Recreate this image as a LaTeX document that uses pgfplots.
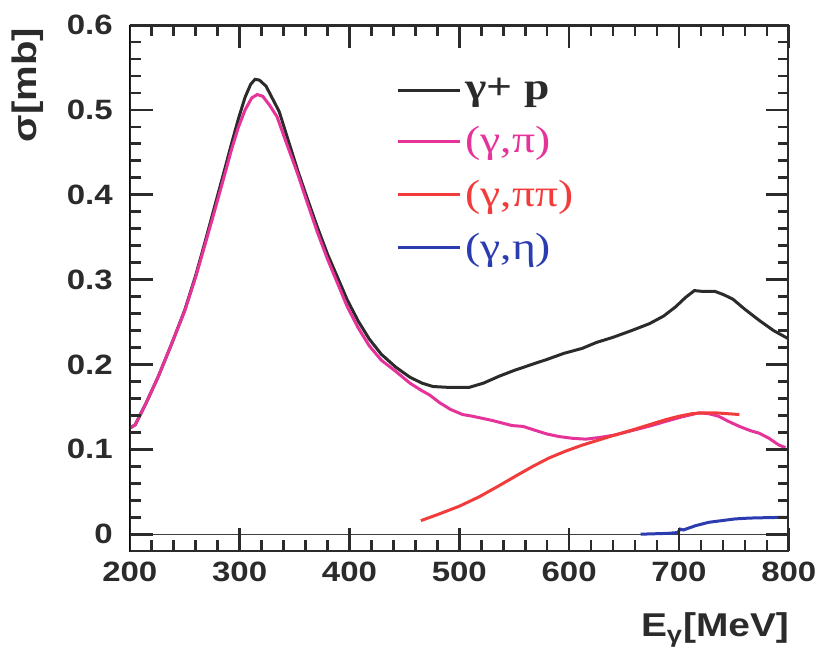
\documentclass[border=0pt]{standalone}
\usepackage{fontspec}
\setmainfont{Liberation Sans}[FakeStretch=1.18]
\newfontfamily\legfont{Liberation Serif}[FakeStretch=1.2]
\usepackage{pgfplots}
\pgfplotsset{compat=1.18}
\definecolor{cblk}{HTML}{2B2B2B}
\definecolor{cmag}{HTML}{E5339A}
\definecolor{cred}{HTML}{F23C3C}
\definecolor{cblu}{HTML}{2A3CB0}

\begin{document}
\begin{tikzpicture}
\begin{axis}[
  scale only axis,
  width=330pt, height=263.5pt,
  xmin=200, xmax=800, ymin=-0.02, ymax=0.6,
  xtick={200,300,...,800}, ytick={0,0.1,...,0.6},
  minor x tick num=4, minor y tick num=4,
  major tick length=11.5pt, minor tick length=5.5pt,
  tick style={line width=1.3pt, black!83},
  /pgf/number format/assume math mode=true,
  /pgf/number format/fixed,
  ticklabel style={font=\fontsize{14}{16}\selectfont\bfseries, text=cblk},
  yticklabel style={xshift=-5pt},
  xticklabel style={yshift=-2pt},
  ylabel={\bfseries σ[mb]},
  ylabel style={at={(axis description cs:-0.155,0.886)}, anchor=center,
    font=\fontsize{17}{19}\selectfont, text=cblk},
  xlabel={\bfseries E\textsubscript{γ}[MeV]},
  xlabel style={at={(axis description cs:0.765,-0.163)}, anchor=base west,
    font=\fontsize{16.5}{19}\selectfont, text=cblk},
  legend style={at={(axis description cs:0.395,0.915)}, anchor=north west,
    draw=none, fill=none, font=\legfont\fontsize{19}{21}\selectfont,
    row sep=8pt, column sep=0pt},
  legend cell align=left,
  legend image code/.code={\draw[#1] (0pt,0pt) -- (31pt,0pt);},
]
\addplot[forget plot, black!75, line width=0.6pt] coordinates {(200,0)(800,0)};

\addplot[cblk, line width=1.5pt] coordinates {
(200,0.125)(205,0.129)(215,0.155)(226,0.186)(238,0.224)(250,0.264)(260,0.305)
(268,0.342)(277,0.385)(286,0.428)(293,0.462)(299,0.490)(305,0.515)(310,0.530)
(314,0.536)(318,0.535)(324,0.528)(330,0.513)(336,0.498)(344,0.465)(353,0.428)
(362,0.394)(371,0.361)(380,0.330)(389,0.303)(398,0.276)(408,0.251)(418,0.230)
(429,0.212)(442,0.197)(455,0.185)(466,0.178)(476,0.174)(490,0.173)(509,0.173)
(522,0.178)(536,0.186)(550,0.193)(566,0.200)(580,0.206)(595,0.213)(612,0.219)
(625,0.226)(640,0.232)(657,0.240)(673,0.248)(686,0.257)(697,0.268)(706,0.279)
(714,0.287)(722,0.286)(733,0.286)(741,0.282)(749,0.277)(760,0.265)(773,0.252)
(786,0.240)(800,0.230)};
\addlegendentry{\textcolor{cblk}{\bfseries γ+ p}}

\addplot[cmag, line width=1.5pt] coordinates {
(200,0.125)(205,0.129)(215,0.155)(226,0.186)(238,0.224)(250,0.263)(260,0.303)
(268,0.339)(277,0.380)(286,0.422)(293,0.455)(299,0.480)(305,0.500)(311,0.514)
(316,0.518)(321,0.516)(327,0.506)(334,0.492)(342,0.463)(353,0.424)(362,0.389)
(371,0.355)(380,0.324)(389,0.296)(398,0.268)(408,0.243)(418,0.222)(429,0.205)
(442,0.192)(455,0.178)(466,0.169)(473,0.164)(482,0.155)(492,0.147)(503,0.141)
(512,0.139)(530,0.134)(548,0.128)(558,0.127)(570,0.122)(580,0.118)(591,0.115)
(603,0.113)(615,0.112)(628,0.114)(642,0.117)(660,0.123)(675,0.128)(688,0.133)
(702,0.138)(718,0.143)(727,0.142)(736,0.139)(745,0.133)(755,0.127)(765,0.122)
(773,0.119)(782,0.113)(791,0.105)(797,0.102)};
\addlegendentry{\textcolor{cmag}{(γ,π)}}

\addplot[cred, line width=1.5pt] coordinates {
(465,0.016)(480,0.023)(500,0.033)(518,0.044)(536,0.057)(552,0.069)(567,0.080)
(582,0.090)(597,0.098)(612,0.105)(627,0.111)(642,0.117)(658,0.123)(673,0.129)
(688,0.135)(700,0.139)(712,0.142)(722,0.143)(733,0.143)(744,0.142)(755,0.141)};
\addlegendentry{\textcolor{cred}{(γ,ππ)}}

\addplot[cblu, line width=1.5pt] coordinates {
(665,0.000)(690,0.001)(699,0.002)(701,0.006)(704,0.005)(715,0.010)(727,0.014)
(739,0.016)(751,0.018)(764,0.019)(780,0.0195)(800,0.020)};
\addlegendentry{\textcolor{cblu}{(γ,η)}}

% tick marks drawn by hand as well, inward on all four sides
\pgfplotsinvokeforeach{300,400,500,600,700}{
  \draw[line width=1.3pt, black!83] (axis cs:#1,-0.02) -- ++(0pt,11.5pt);
  \draw[line width=1.3pt, black!83] (axis cs:#1,0.6) -- ++(0pt,-11.5pt);
}
\pgfplotsinvokeforeach{220,240,260,280,320,340,360,380,420,440,460,480,
  520,540,560,580,620,640,660,680,720,740,760,780}{
  \draw[line width=1.3pt, black!83] (axis cs:#1,-0.02) -- ++(0pt,5.5pt);
  \draw[line width=1.3pt, black!83] (axis cs:#1,0.6) -- ++(0pt,-5.5pt);
}
\pgfplotsinvokeforeach{0,0.1,0.2,0.3,0.4,0.5}{
  \draw[line width=1.3pt, black!83] (axis cs:200,#1) -- ++(11.5pt,0pt);
  \draw[line width=1.3pt, black!83] (axis cs:800,#1) -- ++(-11.5pt,0pt);
}
\pgfplotsinvokeforeach{0.02,0.04,0.06,0.08,0.12,0.14,0.16,0.18,0.22,0.24,
  0.26,0.28,0.32,0.34,0.36,0.38,0.42,0.44,0.46,0.48,0.52,0.54,0.56,0.58}{
  \draw[line width=1.3pt, black!83] (axis cs:200,#1) -- ++(5.5pt,0pt);
  \draw[line width=1.3pt, black!83] (axis cs:800,#1) -- ++(-5.5pt,0pt);
}

\draw[line width=1.6pt, cblk] (rel axis cs:0,0) rectangle (rel axis cs:1,1);
\end{axis}
\path (-65pt,-55pt) rectangle (346.5pt,276pt);
\end{tikzpicture}
\end{document}
